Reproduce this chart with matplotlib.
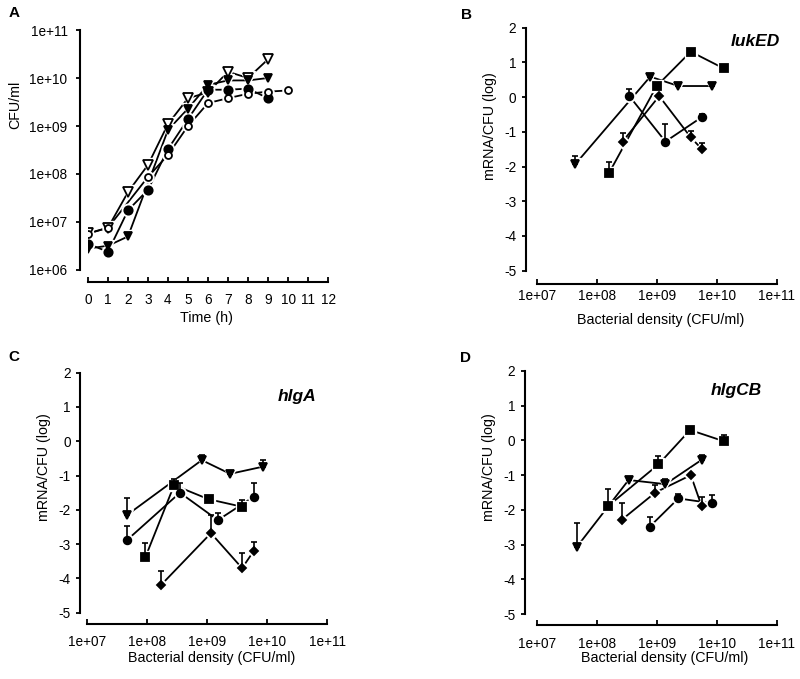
import numpy as np
import matplotlib
matplotlib.use('Agg')
import matplotlib.pyplot as plt
from matplotlib.ticker import FixedLocator, FuncFormatter

plt.rcParams['font.family'] = ['Liberation Sans', 'DejaVu Sans']
plt.rcParams['axes.unicode_minus'] = False

# ---- Panel A: growth curves (CFU/ml vs time) ----
timeOpenTri = [0, 1, 2, 3, 4, 5, 6, 7, 8, 9]
cfuOpenTri = [5.8e6, 7.6e6, 4.2e7, 1.55e8, 1.1e9, 3.8e9, 5.0e9, 1.35e10, 1.0e10, 2.45e10]
timeFillTri = [0, 1, 2, 4, 5, 6, 7, 8, 9]
cfuFillTri = [2.8e6, 3.2e6, 5.0e6, 8.3e8, 2.3e9, 7.2e9, 8.9e9, 8.9e9, 1.0e10]
timeFillCirc = [0, 1, 2, 3, 4, 5, 6, 7, 8, 9]
cfuFillCirc = [3.5e6, 2.4e6, 1.75e7, 4.7e7, 3.3e8, 1.4e9, 5.7e9, 5.7e9, 6.0e9, 3.8e9]
timeOpenCirc = [0, 1, 3, 4, 5, 6, 7, 8, 9, 10]
cfuOpenCirc = [5.7e6, 7.6e6, 8.7e7, 2.5e8, 1.0e9, 3.0e9, 3.8e9, 4.7e9, 5.2e9, 5.5e9]
timeTicks = list(range(0, 13))
cfuTicks = [1e6, 1e7, 1e8, 1e9, 1e10, 1e11]

# ---- Panel B: lukED ----
bTriX = [4.4e7, 7.8e8, 2.3e9, 8.3e9]
bTriY = [-1.93, 0.59, 0.32, 0.32]
bTriErr = [0.24, 0, 0, 0]
bCircX = [3.5e8, 1.4e9, 5.6e9]
bCircY = [0.03, -1.28, -0.58]
bCircErr = [0.2, 0.5, 0.1]
bSqX = [1.6e8, 1.0e9, 3.7e9, 1.3e10]
bSqY = [-2.19, 0.32, 1.31, 0.83]
bSqErr = [0.31, 0, 0, 0.08]
bDiaX = [2.7e8, 1.1e9, 3.7e9, 5.6e9]
bDiaY = [-1.28, 0.03, -1.16, -1.49]
bDiaErr = [0.26, 0, 0.17, 0.18]

# ---- Panel C: hlgA ----
cTriX = [4.6e7, 8.1e8, 2.4e9, 8.5e9]
cTriY = [-2.15, -0.55, -0.95, -0.74]
cTriErr = [0.51, 0.15, 0, 0.19]
cCircX = [4.6e7, 3.5e8, 1.5e9, 5.9e9]
cCircY = [-2.88, -1.50, -2.30, -1.62]
cCircErr = [0.41, 0.27, 0.2, 0.41]
cSqX = [9.3e7, 2.8e8, 1.05e9, 3.8e9]
cSqY = [-3.38, -1.28, -1.69, -1.91]
cSqErr = [0.4, 0.17, 0, 0.2]
cDiaX = [1.7e8, 1.15e9, 3.8e9, 6.0e9]
cDiaY = [-4.19, -2.68, -3.70, -3.19]
cDiaErr = [0.42, 0.53, 0.43, 0.25]

# ---- Panel D: hlgCB ----
dTriX = [4.7e7, 3.4e8, 1.4e9, 5.6e9]
dTriY = [-3.06, -1.14, -1.26, -0.56]
dTriErr = [0.69, 0, 0.14, 0.14]
dCircX = [7.6e8, 2.3e9, 8.3e9]
dCircY = [-2.49, -1.67, -1.81]
dCircErr = [0.29, 0.14, 0.24]
dSqX = [1.55e8, 1.07e9, 3.6e9, 1.3e10]
dSqY = [-1.89, -0.69, 0.30, -0.02]
dSqErr = [0.48, 0.24, 0, 0.18]
dDiaX = [2.6e8, 9.5e8, 3.7e9, 5.6e9]
dDiaY = [-2.29, -1.50, -1.0, -1.89]
dDiaErr = [0.48, 0.21, 0, 0.27]

densityTicks = [1e7, 1e8, 1e9, 1e10, 1e11]
mrnaTicks = [-5, -4, -3, -2, -1, 0, 1, 2]

W, H = 800, 679
PX = 72.0 / 100  # points per pixel at dpi 100

fig = plt.figure(figsize=(W / 100, H / 100), dpi=100)


def pixAxes(x0, y0, x1, y1):
    # axes from pixel box (top-left origin)
    return fig.add_axes([x0 / W, 1 - y1 / H, (x1 - x0) / W, (y1 - y0) / H])


def sciLabel(v, pos):
    return "1e+%02d" % int(round(np.log10(v)))


def styleAxes(ax, leftOff, bottomOff, xpad, ypad):
    ax.spines['top'].set_visible(False)
    ax.spines['right'].set_visible(False)
    ax.spines['left'].set_position(('outward', leftOff * PX))
    ax.spines['bottom'].set_position(('outward', bottomOff * PX))
    ax.spines['left'].set_linewidth(1.5)
    ax.spines['bottom'].set_linewidth(1.5)
    ax.tick_params(axis='y', direction='out', length=3, width=1.3, pad=ypad, labelsize=9.8)
    ax.tick_params(axis='x', direction='in', length=3.5, width=1.3, pad=xpad, labelsize=9.8)
    ax.minorticks_off()
    ax.patch.set_visible(False)


def drawSeries(ax, x, y, marker, ms, filled=True, err=None):
    ax.plot(x, y, '-', color='k', lw=1.3, zorder=2)
    ax.plot(x, y, ls='none', marker=marker, ms=ms + 3, mfc='white', mec='white', zorder=3)
    if err is not None:
        ax.errorbar(x, y, yerr=[np.zeros(len(err)), err], fmt='none', ecolor='k',
                    elinewidth=1.2, capsize=2.3, capthick=1.2, zorder=4)
    ax.plot(x, y, ls='none', marker=marker, ms=ms, mfc='k' if filled else 'white',
            mec='k', mew=1.3, zorder=5)


def fpx(x, y):
    return x / W, 1 - y / H


# Panel A
axA = pixAxes(88, 30, 328, 270)
axA.set_yscale('log')
drawSeries(axA, timeOpenTri, cfuOpenTri, 'v', 7, filled=False)
drawSeries(axA, timeFillTri, cfuFillTri, 'v', 6)
drawSeries(axA, timeFillCirc, cfuFillCirc, 'o', 6)
drawSeries(axA, timeOpenCirc, cfuOpenCirc, 'o', 5, filled=False)
axA.set_xlim(0, 12)
axA.set_ylim(1e6, 1e11)
axA.xaxis.set_major_locator(FixedLocator(timeTicks))
axA.yaxis.set_major_locator(FixedLocator(cfuTicks))
axA.yaxis.set_major_formatter(FuncFormatter(sciLabel))
styleAxes(axA, 8, 12, 8, 6)

# Panels B, C, D
panels = [
    (pixAxes(536.7, 27.7, 776.7, 270.7), 10.7, 13.6, 3.5, 4,
     [(bTriX, bTriY, bTriErr), (bCircX, bCircY, bCircErr), (bSqX, bSqY, bSqErr), (bDiaX, bDiaY, bDiaErr)]),
    (pixAxes(87.3, 372.7, 327.3, 612.7), 7.3, 11.3, 8, 3.5,
     [(cTriX, cTriY, cTriErr), (cCircX, cCircY, cCircErr), (cSqX, cSqY, cSqErr), (cDiaX, cDiaY, cDiaErr)]),
    (pixAxes(536.7, 371, 776.7, 614), 11.7, 11, 8.5, 4,
     [(dTriX, dTriY, dTriErr), (dCircX, dCircY, dCircErr), (dSqX, dSqY, dSqErr), (dDiaX, dDiaY, dDiaErr)]),
]
markers = [('v', 6), ('o', 5.5), ('s', 5.5), ('D', 4)]

for ax, lo, bo, xp, yp, series in panels:
    ax.set_xscale('log')
    for (x, y, e), (m, ms) in zip(series, markers):
        drawSeries(ax, x, y, m, ms, err=e)
    ax.set_xlim(1e7, 1e11)
    ax.set_ylim(-5, 2)
    ax.xaxis.set_major_locator(FixedLocator(densityTicks))
    ax.xaxis.set_major_formatter(FuncFormatter(sciLabel))
    ax.yaxis.set_major_locator(FixedLocator(mrnaTicks))
    styleAxes(ax, lo, bo, xp, yp)

# labels
lab = dict(fontsize=10.3, ha='center', va='center')
fig.text(*fpx(207, 318), 'Time (h)', **lab)
fig.text(*fpx(15, 105), 'CFU/ml', rotation=90, **lab)
fig.text(*fpx(661, 320), 'Bacterial density (CFU/ml)', **lab)
fig.text(*fpx(490, 126), 'mRNA/CFU (log)', rotation=90, **lab)
fig.text(*fpx(212, 658), 'Bacterial density (CFU/ml)', **lab)
fig.text(*fpx(44, 467), 'mRNA/CFU (log)', rotation=90, **lab)
fig.text(*fpx(665, 658), 'Bacterial density (CFU/ml)', **lab)
fig.text(*fpx(489, 467), 'mRNA/CFU (log)', rotation=90, **lab)

letter = dict(fontsize=11, fontweight='bold', ha='center', va='center')
fig.text(*fpx(14, 13), 'A', **letter)
fig.text(*fpx(466, 15), 'B', **letter)
fig.text(*fpx(14, 357), 'C', **letter)
fig.text(*fpx(465, 358), 'D', **letter)

gene = dict(fontsize=12.5, fontweight='bold', style='italic', va='center')
fig.text(*fpx(780, 41), 'lukED', ha='right', **gene)
fig.text(*fpx(297, 396), 'hlgA', ha='center', **gene)
fig.text(*fpx(736, 391), 'hlgCB', ha='center', **gene)

fig.savefig('out.png', dpi=100)
